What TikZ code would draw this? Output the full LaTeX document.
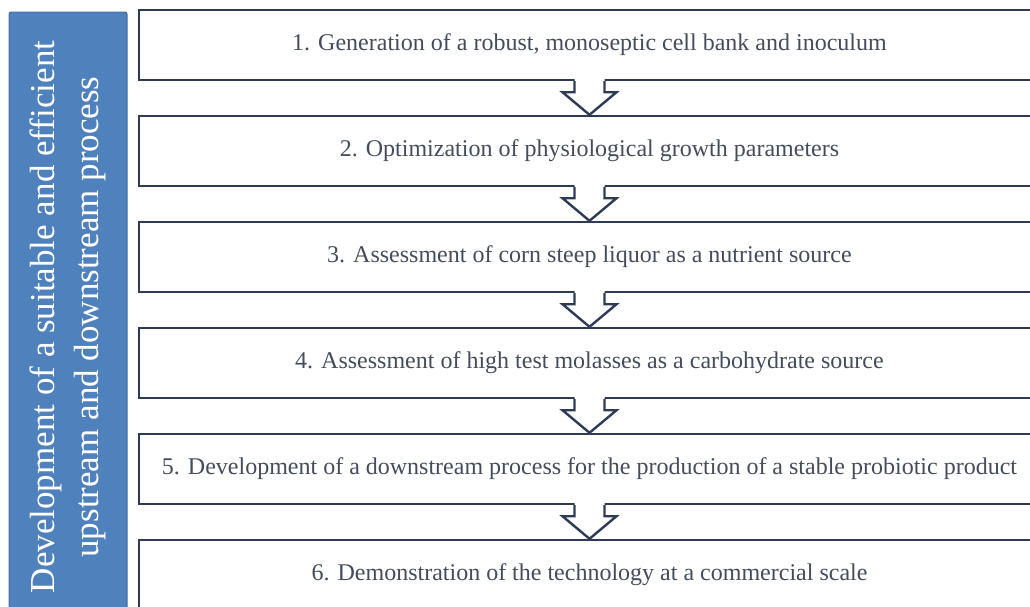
\documentclass[tikz,border=0pt]{standalone}
\usepackage{fontspec}
\setmainfont{Liberation Serif}
\usetikzlibrary{calc}
\definecolor{barblue}{HTML}{4F81BD}
\definecolor{edgenavy}{HTML}{2E3B55}
\definecolor{txtgray}{HTML}{454C5C}
\tikzset{
  stepbox/.style={draw=edgenavy,line width=2.4pt,fill=white,minimum width=901pt,minimum height=70pt,inner sep=0pt,font=\fontsize{24}{28}\selectfont,text=txtgray},
  sidebar/.style={draw=barblue!85!black,line width=1pt,fill=barblue,rounded corners=2pt,minimum width=118pt,minimum height=610pt,inner sep=0pt},
  bartext/.style={rotate=90,text=white,align=center,font=\fontsize{35}{44}\selectfont},
  flowarrow/.style={draw=edgenavy,line width=2.4pt,line join=miter},
}

\begin{document}
\begin{tikzpicture}[x=1pt,y=-1pt]
  \useasboundingbox (0,0) rectangle (1030,606);
  \clip (0,0) rectangle (1030,606);
  % side bar with the overall aim
  \node[sidebar] (bar) at (68,317) {};
  \node[bartext] (bartxt) at (bar.center) {Development of a suitable and efficient\\upstream and downstream process};
  % the six steps
  \foreach \i/\txt in {1/{1. Generation of a robust, monoseptic cell bank and inoculum},
      2/{2. Optimization of physiological growth parameters},
      3/{3. Assessment of corn steep liquor as a nutrient source},
      4/{4. Assessment of high test molasses as a carbohydrate source},
      5/{5. Development of a downstream process for the production of a stable probiotic product},
      6/{6. Demonstration of the technology at a commercial scale}}
    \node[stepbox] (s\i) at (589.5,{45+106*(\i-1)}) {\txt};
  % hollow block arrows between the steps
  \foreach \i/\j in {1/2,2/3,3/4,4/5,5/6} {
    \fill[white] ($(s\i.south)+(-15,-3)$) -- ($(s\i.south)+(-15,11)$) -- ($(s\i.south)+(-27,11)$)
      -- (s\j.north) -- ($(s\i.south)+(27,11)$) -- ($(s\i.south)+(15,11)$) -- ($(s\i.south)+(15,-3)$) -- cycle;
    \draw[flowarrow] ($(s\i.south)+(-15,0)$) -- ++(0,11) -- ++(-12,0)
      -- (s\j.north) -- ($(s\i.south)+(27,11)$) -- ++(-12,0) -- ++(0,-11);
  }
\end{tikzpicture}
\end{document}
